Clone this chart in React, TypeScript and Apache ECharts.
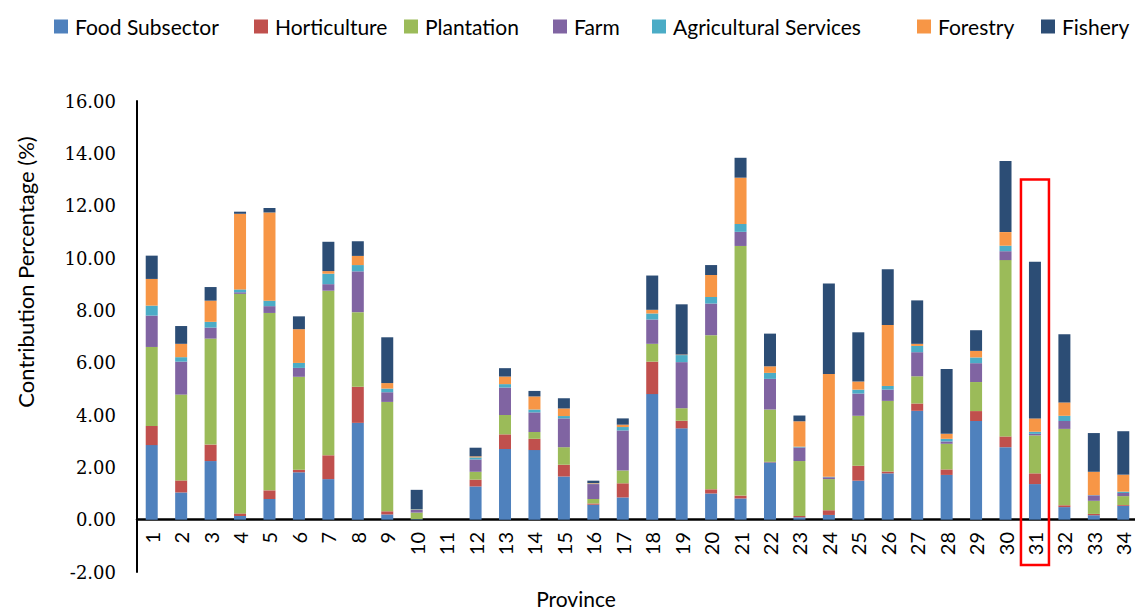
import React, { useEffect, useRef } from "react";
import * as echarts from "echarts";

// Province numbers along the x axis
const provinces = Array.from({ length: 34 }, (_, i) => String(i + 1));

// Contribution (%) of each agricultural subsector, per province
const foodSubsector = [2.85, 1.04, 2.24, 0.14, 0.79, 1.81, 1.55, 3.70, 0.20, 0.02, 0, 1.27, 2.70, 2.66, 1.65, 0.57, 0.85, 4.80, 3.49, 1.00, 0.81, 2.19, 0.09, 0.18, 1.49, 1.77, 4.16, 1.71, 3.77, 2.77, 1.36, 0.48, 0.17, 0.53];
const horticulture = [0.73, 0.46, 0.63, 0.10, 0.33, 0.10, 0.91, 1.38, 0.12, 0, 0, 0.26, 0.56, 0.43, 0.45, 0.05, 0.54, 1.24, 0.29, 0.16, 0.11, 0.02, 0.05, 0.18, 0.57, 0.07, 0.28, 0.21, 0.38, 0.41, 0.41, 0.07, 0.05, 0.03];
const plantation = [3.02, 3.28, 4.05, 8.39, 6.78, 3.55, 6.29, 2.85, 4.18, 0.25, 0, 0.30, 0.74, 0.26, 0.67, 0.17, 0.49, 0.68, 0.48, 5.89, 9.54, 2.00, 2.10, 1.19, 1.91, 2.70, 1.04, 0.98, 1.11, 6.74, 1.45, 2.92, 0.50, 0.34];
const farm = [1.20, 1.26, 0.42, 0.06, 0.26, 0.34, 0.25, 1.56, 0.37, 0.10, 0, 0.47, 1.05, 0.75, 1.10, 0.57, 1.53, 0.93, 1.76, 1.21, 0.54, 1.17, 0.52, 0.07, 0.85, 0.43, 0.92, 0.09, 0.72, 0.34, 0.06, 0.30, 0.21, 0.12];
const agriculturalServices = [0.38, 0.17, 0.22, 0.11, 0.21, 0.19, 0.40, 0.24, 0.14, 0.02, 0, 0.08, 0.13, 0.11, 0.09, 0.02, 0.13, 0.23, 0.27, 0.25, 0.30, 0.23, 0.03, 0.02, 0.15, 0.14, 0.24, 0.10, 0.22, 0.21, 0.08, 0.20, 0.01, 0.05];
const forestry = [1.02, 0.51, 0.81, 2.89, 3.37, 1.29, 0.10, 0.35, 0.21, 0.01, 0, 0.04, 0.29, 0.50, 0.29, 0.02, 0.09, 0.14, 0.02, 0.84, 1.77, 0.25, 0.97, 3.93, 0.31, 2.33, 0.08, 0.19, 0.25, 0.52, 0.51, 0.51, 0.89, 0.65];
const fishery = [0.89, 0.68, 0.52, 0.08, 0.17, 0.49, 1.12, 0.56, 1.75, 0.74, 0, 0.33, 0.32, 0.21, 0.39, 0.09, 0.24, 1.31, 1.92, 0.38, 0.76, 1.25, 0.22, 3.46, 1.88, 2.13, 1.66, 2.48, 0.79, 2.72, 5.99, 2.61, 1.48, 1.66];

const seriesNames = ["Food Subsector", "Horticulture", "Plantation", "Farm", "Agricultural Services", "Forestry", "Fishery"];
const seriesData = [foodSubsector, horticulture, plantation, farm, agriculturalServices, forestry, fishery];
const seriesColors = ["#4F81BD", "#C0504D", "#9BBB59", "#8064A2", "#4BACC6", "#F79646", "#2C4D75"];

// Left edge of each legend entry along the top row
const legendLefts = [54, 254, 404, 553, 652, 917, 1041];

// Highlighted province and the value range its frame spans
const highlightProvince = "31";
const highlightTop = 13;
const highlightBottom = -1.73;

const SANS = "Lato, 'Liberation Sans', sans-serif";
const SERIF = "'DejaVu Serif', serif";

export default function App() {
  const ref = useRef<HTMLDivElement>(null);

  useEffect(() => {
    if (!ref.current) return;
    const chart = echarts.init(ref.current, undefined, { renderer: "svg" });

    chart.setOption({
      animation: false,
      backgroundColor: "#ffffff",
      legend: seriesNames.map((name, i) => ({
        top: 16,
        left: legendLefts[i],
        padding: 0,
        itemWidth: 14,
        itemHeight: 14,
        icon: "rect",
        textStyle: { fontFamily: SANS, fontSize: 21, color: "#000", padding: [0, 0, 0, 2] },
        data: [name],
      })),
      grid: { left: 137, top: 101, width: 1001, height: 471, outerBoundsMode: "none", containLabel: false },
      xAxis: {
        type: "category",
        data: provinces,
        axisLine: { show: true, onZero: true, lineStyle: { color: "#000", width: 2.5 } },
        axisTick: { show: false },
        // labels sit just below the zero line rather than the bottom of the grid
        axisLabel: { rotate: 90, fontFamily: SANS, fontSize: 20, color: "#000", margin: -40, interval: 0 },
      },
      yAxis: {
        type: "value",
        min: -2,
        max: 16,
        interval: 2,
        axisLine: { show: true, lineStyle: { color: "#000", width: 2 } },
        axisTick: { show: false },
        splitLine: { show: false },
        axisLabel: {
          fontFamily: SERIF,
          fontSize: 18,
          color: "#000",
          margin: 21,
          formatter: (v: number) => v.toFixed(2),
        },
      },
      series: seriesNames.map((name, i) => ({
        name,
        type: "bar",
        stack: "total",
        data: seriesData[i],
        barWidth: 12,
        itemStyle: { color: seriesColors[i] },
      })),
    });

    // Frame around the highlighted province, placed through the axes
    const cx = chart.convertToPixel({ xAxisIndex: 0 }, highlightProvince) as number;
    const yTop = chart.convertToPixel({ yAxisIndex: 0 }, highlightTop) as number;
    const yBot = chart.convertToPixel({ yAxisIndex: 0 }, highlightBottom) as number;
    chart.setOption({
      graphic: [
        {
          type: "rect",
          shape: { x: cx - 14, y: yTop, width: 28, height: yBot - yTop },
          style: { fill: "none", stroke: "#FF0000", lineWidth: 2.5 },
          z: 100,
        },
        {
          type: "text",
          x: 25,
          y: 272,
          rotation: Math.PI / 2,
          style: {
            text: "Contribution Percentage (%)",
            fontFamily: SANS,
            fontSize: 22,
            fill: "#000",
            align: "center",
            verticalAlign: "middle",
          },
        },
        {
          type: "text",
          x: 576,
          y: 598,
          style: {
            text: "Province",
            fontFamily: SANS,
            fontSize: 21,
            fill: "#000",
            align: "center",
            verticalAlign: "middle",
          },
        },
      ],
    });

    return () => chart.dispose();
  }, []);

  return (
    <div
      ref={ref}
      style={{ position: "absolute", left: 0, top: 0, width: 1135, height: 611, background: "#fff" }}
    />
  );
}
